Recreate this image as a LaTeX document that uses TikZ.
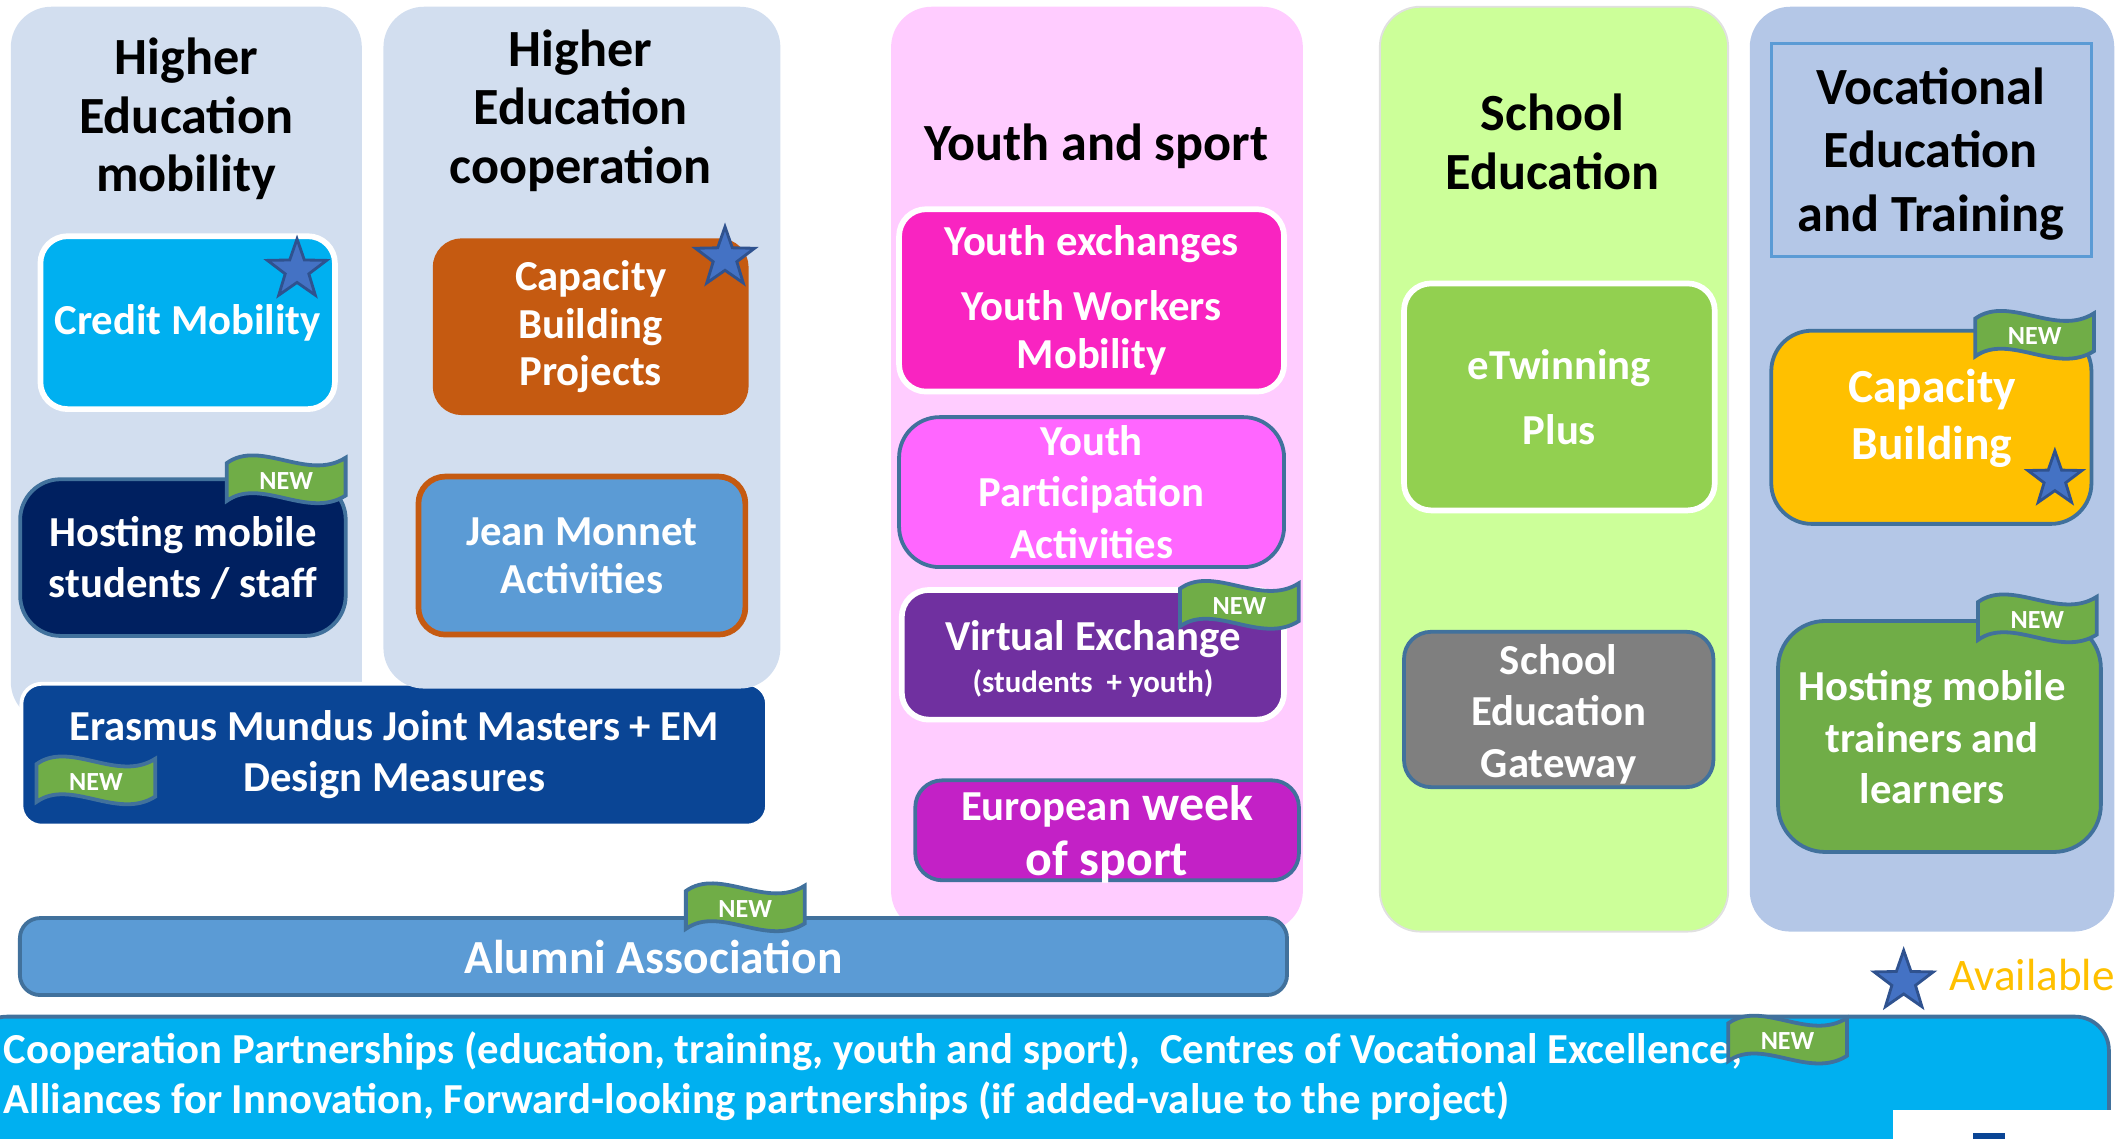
\documentclass[tikz,border=0pt]{standalone}
\usepackage{fontspec}
\setmainfont{Carlito}
\usepackage{tikz}
\usetikzlibrary{shapes.geometric}
\definecolor{edge}{HTML}{41719C}
\definecolor{hebg}{HTML}{D2DEEF}
\definecolor{youthbg}{HTML}{FFCCFF}
\definecolor{schoolbg}{HTML}{CCFF99}
\definecolor{vetbg}{HTML}{B4C7E7}
\definecolor{credit}{HTML}{00B0F0}
\definecolor{navy}{HTML}{002060}
\definecolor{rust}{HTML}{C55A11}
\definecolor{midblue}{HTML}{5B9BD5}
\definecolor{emjm}{HTML}{0A4595}
\definecolor{hotpink}{HTML}{F924C1}
\definecolor{pink}{HTML}{FF66FF}
\definecolor{violet}{HTML}{7030A0}
\definecolor{magenta}{HTML}{C321C6}
\definecolor{lime}{HTML}{92D050}
\definecolor{slate}{HTML}{7F7F7F}
\definecolor{amber}{HTML}{FFC000}
\definecolor{leaf}{HTML}{70AD47}
\definecolor{starblue}{HTML}{4472C4}
\definecolor{staredge}{HTML}{2F528F}
\newcommand\ttlfnt{\fontsize{11}{12.4}\selectfont\bfseries}
\newcommand\boxfnt{\fontsize{9}{10.8}\selectfont\bfseries}
\newcommand\tightfnt{\fontsize{9}{10}\selectfont\bfseries}
\newcommand\newfnt{\fontsize{5.5}{6}\selectfont\bfseries}
\tikzset{
  colbg/.style={rounded corners=3mm},
  box/.style={draw=edge, line width=0.8pt, rounded corners=2mm, inner sep=0pt,
    align=center, text=white, font=\boxfnt},
  wbox/.style={box, draw=white, line width=1.2pt},
  ttl/.style={align=center, text=black, font=\ttlfnt, inner sep=0pt},
  txt/.style={align=center, text=white, font=\boxfnt, inner sep=0pt},
  starmark/.style={star, star points=5, star point ratio=2.5, fill=starblue,
    draw=staredge, line width=0.6pt, inner sep=0pt},
  flagline/.style={fill=leaf, draw=edge, line width=0.8pt},
  newtxt/.style={text=white, font=\newfnt, inner sep=0pt},
  newflag/.pic={
    \draw[flagline] (0,6) .. controls (25,-12) and (60,20) .. (88,2)
      -- (88,30) .. controls (60,48) and (25,16) .. (0,34) -- cycle;
    \node[newtxt] (-t) at (44,19) {NEW};
  },
}

\begin{document}
\begin{tikzpicture}[x=0.01cm, y=-0.01cm]
  \useasboundingbox (0,0) rectangle (1568,843);
  \clip (0,0) rectangle (1568,843);

  % column backgrounds
  \fill[colbg, hebg] (8,5) rectangle (268,535);
  \fill[colbg, youthbg] (660,5) rectangle (965,690);
  \draw[colbg, fill=schoolbg, draw=black!12] (1022,5) rectangle (1280,690);
  \fill[colbg, vetbg] (1296,5) rectangle (1566,690);

  % erasmus mundus, under the second column
  \node[wbox, fill=emjm, line width=0.8pt, rounded corners=1.5mm,
    minimum width=55.2mm, minimum height=10.5mm] (emjm) at (292,559)
    {Erasmus Mundus Joint Masters + EM\\Design Measures};
  \fill[colbg, hebg] (284,5) rectangle (578,510);

  % titles
  \node[ttl] (t1) at (138,88) {Higher\\Education\\mobility};
  \node[ttl] (t2) at (430,82) {Higher\\Education\\cooperation};
  \node[ttl] (t3) at (812,108) {Youth and sport};
  \node[ttl] (t4) at (1150,105) {School\\Education};
  \node[draw=midblue, line width=0.6pt, inner sep=0pt, minimum width=23.7mm,
    minimum height=15.8mm] (t5box) at (1430.5,111) {};
  \node[ttl, font=\fontsize{11}{13.4}\selectfont\bfseries] (t5) at (1430,114) {Vocational\\Education\\and Training};

  % higher education
  \node[wbox, fill=credit, minimum width=21.8mm, minimum height=12.8mm] (credit) at (139,239) {Credit Mobility\vphantom{p}};
  \node[box, fill=navy, rounded corners=3mm, minimum width=24.1mm, minimum height=11.6mm] (hoststud)
    at (135.5,413) {Hosting mobile\\students / staff};
  \node[box, draw=rust, fill=rust, minimum width=23.1mm, minimum height=12.8mm, font=\tightfnt] (cbp)
    at (437.5,242) {Capacity\\Building\\Projects};
  \node[box, draw=rust, line width=1.2pt, fill=midblue, minimum width=24.2mm, minimum height=11.7mm,
    font=\tightfnt] (jm) at (431,411.5) {Jean Monnet\\Activities};

  % youth and sport
  \node[wbox, fill=hotpink, minimum width=28.5mm, minimum height=13.5mm, font=\tightfnt] (yex) at (808.5,222.5)
    {Youth exchanges\\[1.3mm]Youth Workers\\Mobility};
  \node[box, fill=pink, rounded corners=3mm, minimum width=28.5mm, minimum height=11.1mm] (ypa)
    at (808.5,364.5) {Youth\\Participation\\Activities};
  \node[wbox, fill=violet, minimum width=28.3mm, minimum height=9.6mm] (vx) at (809.5,485) {};
  \node[txt] (vxt) at (809.5,488)
    {Virtual Exchange\\[-0.7mm]{\fontsize{6.5}{8}\selectfont(students~ + youth)}};
  \node[box, fill=magenta, minimum width=28.4mm, minimum height=7.4mm] (ews) at (820,615) {};
  \node[txt, font=\fontsize{10.5}{11.4}\selectfont\bfseries] (ewst) at (820,618)
    {{\boxfnt European} week\\of sport};

  % school education
  \node[wbox, fill=lime, minimum width=23mm, minimum height=16.8mm] (etw) at (1155,294) {eTwinning\\[1mm]Plus};
  \node[box, fill=slate, minimum width=22.9mm, minimum height=11.5mm] (seg) at (1154.5,525.5) {};
  \node[txt] (segt) at (1154.5,529) {School\\Education\\Gateway};

  % vocational education and training
  \node[box, fill=amber, rounded corners=3mm, minimum width=23.7mm, minimum height=14.3mm] (vcb) at (1430.5,316.5) {};
  \node[txt, font=\fontsize{10}{12}\selectfont\bfseries] (vcbt) at (1431,310) {Capacity\\Building};
  \node[box, fill=leaf, rounded corners=3.5mm, minimum width=23.9mm, minimum height=17.1mm] (hmt) at (1436.5,545.5) {};
  \node[txt] (hmtt) at (1431,546) {Hosting mobile\\trainers and\\learners};

  % alumni and partnerships
  \node[box, fill=midblue, rounded corners=1.5mm, minimum width=93.8mm, minimum height=5.7mm,
    font=\fontsize{10}{12}\selectfont\bfseries] (alumni) at (484,708.5) {Alumni Association};
  \draw[fill=credit, draw=edge, line width=0.8pt, rounded corners=2.5mm]
    (-20,753) -- (1562,753) -- (1562,900) -- (-20,900) -- cycle;
  \node[txt, align=left, anchor=west, font=\fontsize{9}{10.5}\selectfont\bfseries] (band) at (2,797)
    {Cooperation Partnerships (education, training, youth and sport),~ Centres of Vocational Excellence,\\
     Alliances for Innovation, Forward-looking partnerships (if added-value to the project)};
  \fill[white] (1402,822) rectangle (1580,850);
  \fill[emjm] (1461,839) rectangle (1485,850);

  % new flags and stars
  \foreach \X/\Y [count=\i] in {168/337, 27/560, 874/430, 1463/230, 1465/440, 508/654, 1280/752}
    \pic (nf\i) at (\X,\Y) {newflag};
  \foreach \X/\Y/\S [count=\i] in {220/200/4.6, 537/191/4.6, 1522/355/4.2, 1410/727/4.6}
    \node[starmark, minimum size=\S mm] (st\i) at (\X,\Y) {};
  \node[anchor=west, inner sep=0pt, text=amber, font=\fontsize{9.5}{11}\selectfont] (avail) at (1443,722) {Available};
\end{tikzpicture}
\end{document}
